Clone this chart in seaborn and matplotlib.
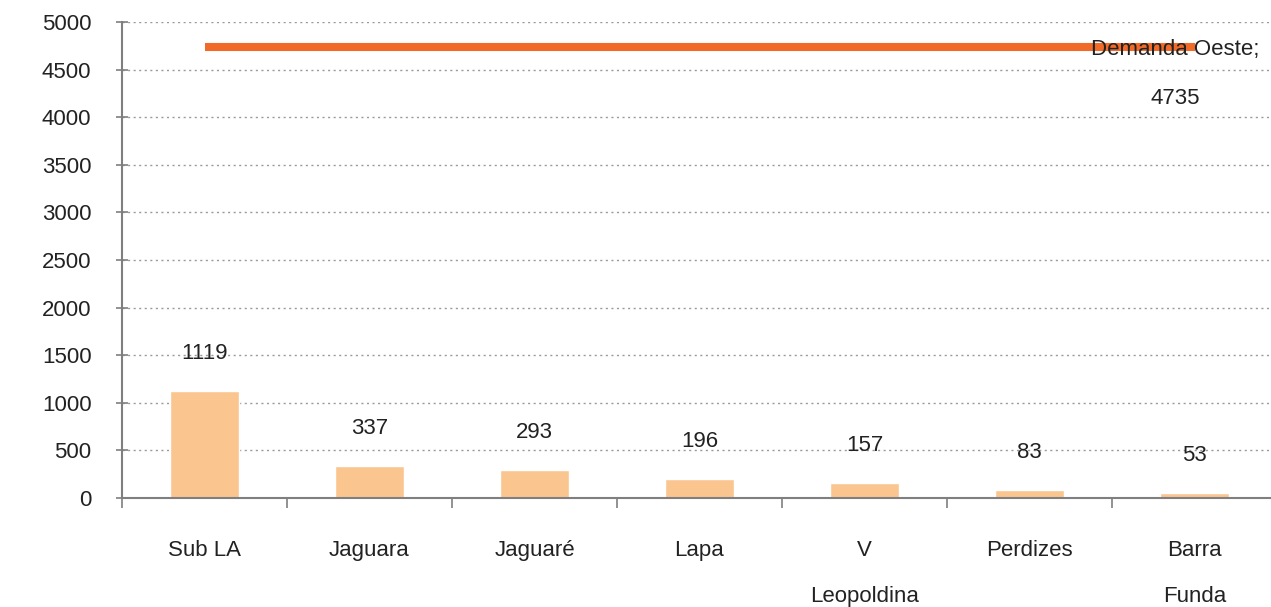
import numpy as np
import pandas as pd
import matplotlib
matplotlib.use("Agg")
import matplotlib.pyplot as plt
import seaborn as sns

categories = ["Sub LA", "Jaguara", "Jaguaré", "Lapa", "V\nLeopoldina", "Perdizes", "Barra\nFunda"]
values = [1119, 337, 293, 196, 157, 83, 53]
demand_label = "Demanda Oeste;"
demand_value = 4735
y_ticks = list(range(0, 5001, 500))

BAR_COLOR = "#FBC590"
LINE_COLOR = "#F26A27"
TEXT_COLOR = "#222222"
AXIS_COLOR = "#7f7f7f"
FS = 16

sns.set_style("white")
plt.rcParams["font.family"] = ["Liberation Sans", "DejaVu Sans"]

df = pd.DataFrame({"bairro": categories, "valor": values})

fig = plt.figure(figsize=(12.71, 6.07), dpi=100)
ax = fig.add_axes([122 / 1271, 1 - 498 / 607, 1155 / 1271, 476 / 607])

sns.barplot(data=df, x="bairro", y="valor", color=BAR_COLOR, width=0.42,
            saturation=1, ax=ax, zorder=2)

# demand line across all categories
ax.plot([0, len(categories) - 1], [demand_value, demand_value],
        color=LINE_COLOR, lw=5.8, solid_capstyle="butt", zorder=3)

ax.set_xlim(-0.5, len(categories) - 0.5)
ax.set_ylim(0, 5000)
ax.set_yticks(y_ticks)
ax.yaxis.grid(True, linestyle=(0, (1.5, 2.5)), color="#9a9a9a", lw=1, zorder=0)
ax.set_axisbelow(True)

for s in ["top", "right"]:
    ax.spines[s].set_visible(False)
for s in ["left", "bottom"]:
    ax.spines[s].set_color(AXIS_COLOR)
    ax.spines[s].set_linewidth(1.5)

ax.set_xlabel("")
ax.set_ylabel("")
ax.set_xticks(np.arange(len(categories)))
ax.set_xticklabels(categories, linespacing=2.58)
# category separators as minor ticks
ax.set_xticks(np.arange(len(categories)) - 0.5, minor=True)
ax.xaxis.set_ticks_position("bottom")
ax.tick_params(axis="x", which="major", length=0, pad=30, labelsize=FS, labelcolor=TEXT_COLOR)
ax.tick_params(axis="x", which="minor", length=7, width=1.2, color=AXIS_COLOR,
               direction="out", bottom=True)
ax.tick_params(axis="y", length=8, width=1.2, color=AXIS_COLOR, pad=18, labelsize=FS,
               labelcolor=TEXT_COLOR, left=True, direction="inout")

for i, v in enumerate(values):
    ax.annotate(f"{v}", (i, v), xytext=(0, 27), textcoords="offset points",
                ha="center", va="center", fontsize=FS, color=TEXT_COLOR)

ax.annotate(f"{demand_label}\n{demand_value}", (len(categories) - 1, demand_value),
            xytext=(-14, -19), textcoords="offset points", ha="center", va="center",
            fontsize=FS, color=TEXT_COLOR, linespacing=2.75, zorder=4)

fig.savefig("out.png", dpi=100)
